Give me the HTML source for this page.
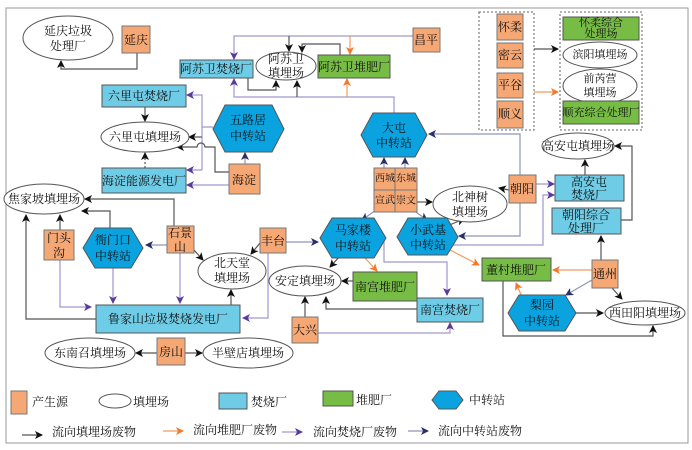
<!DOCTYPE html>
<html><head><meta charset="utf-8"><style>
html,body{margin:0;padding:0;background:#fff;}
svg{display:block;}
text{font-family:"Liberation Serif","Noto Serif CJK SC",serif;font-size:12px;fill:#111;text-anchor:middle;dominant-baseline:central;}
.s{font-size:10px;}
.m{font-size:11px;}
.o{fill:#F6A874;stroke:#777;stroke-width:1}
.b{fill:#6FCCE6;stroke:#555;stroke-width:1}
.g{fill:#76BC45;stroke:#555;stroke-width:1}
.h{fill:#0AA3E0;stroke:#555;stroke-width:1}
.e{fill:#fff;stroke:#555;stroke-width:1}
.k{fill:none;stroke:#555;stroke-width:1.2}
.or{fill:none;stroke:#F39A5E;stroke-width:1.2}
.pu{fill:none;stroke:#A496CC;stroke-width:1.2}
.nv{fill:none;stroke:#8F94B8;stroke-width:1.2}
</style></head><body>
<svg width="692" height="450" viewBox="0 0 692 450" xmlns="http://www.w3.org/2000/svg">
<defs>
<marker id="mk" markerWidth="8" markerHeight="8" refX="7" refY="4" orient="auto" markerUnits="userSpaceOnUse"><path d="M0,0 L8,4 L0,8 L2,4z" fill="#111"/></marker>
<marker id="mo" markerWidth="8" markerHeight="8" refX="7" refY="4" orient="auto" markerUnits="userSpaceOnUse"><path d="M0,0 L8,4 L0,8 L2,4z" fill="#F07A2A"/></marker>
<marker id="mp" markerWidth="8" markerHeight="8" refX="7" refY="4" orient="auto" markerUnits="userSpaceOnUse"><path d="M0,0 L8,4 L0,8 L2,4z" fill="#5B3A9E"/></marker>
<marker id="mn" markerWidth="8" markerHeight="8" refX="7" refY="4" orient="auto" markerUnits="userSpaceOnUse"><path d="M0,0 L8,4 L0,8 L2,4z" fill="#2A2F66"/></marker>
</defs>
<rect x="6" y="8" width="682" height="435" fill="none" stroke="#999" stroke-width="1"/>

<g>
<path class="k" d="M137,53 V69 H61 V61" marker-end="url(#mk)"/>
<path class="pu" d="M413,36 H234 V59" marker-end="url(#mp)"/>
<path class="k" d="M289,36 V51" marker-end="url(#mk)"/>
<path class="k" d="M340,55 V44 H302 V52" marker-end="url(#mk)"/>
<path class="or" d="M350,36 V54" marker-end="url(#mo)"/>
<path class="pu" d="M394,113 V97 H234 V79" marker-end="url(#mp)"/>
<path class="k" d="M297,97 V81" marker-end="url(#mk)"/>
<path class="or" d="M347,97 V79" marker-end="url(#mo)"/>
<path class="k" d="M248,78 V90 H276 V81" marker-end="url(#mk)"/>
<path class="k" d="M145,107 V121" marker-end="url(#mk)"/>
<path class="pu" d="M213,127 H202 V95 H187" marker-end="url(#mp)"/>
<path class="pu" d="M202,127 V170 H187" marker-end="url(#mp)"/>
<path class="k" d="M202,137 H189" marker-end="url(#mk)"/>
<path class="pu" d="M229,185 H187" marker-end="url(#mp)"/>
<path class="k" d="M229,172 H215 V147 H205 A4,4 0 0 0 197,147 H177" marker-end="url(#mk)"/>
<path class="nv" d="M245,164 V153" marker-end="url(#mn)"/>
<path class="k" d="M145,168 V153" stroke-dasharray="2,2" marker-end="url(#mk)"/>
<path class="k" d="M174,226 V199 H85" marker-end="url(#mk)"/>
<path class="k" d="M110,228 V211 H82" marker-end="url(#mk)"/>
<path class="k" d="M60,230 V215" marker-end="url(#mk)"/>
<path class="k" d="M96,319 H26 V215" marker-end="url(#mk)"/>
<path class="pu" d="M60,260 V307 H91" marker-end="url(#mp)"/>
<path class="pu" d="M113,268 V303" marker-end="url(#mp)"/>
<path class="nv" d="M167,245 H146" marker-end="url(#mn)"/>
<path class="pu" d="M180,253 V303" marker-end="url(#mp)"/>
<path class="k" d="M194,250 L203,260" marker-end="url(#mk)"/>
<path class="k" d="M260,243 L251,254" marker-end="url(#mk)"/>
<path class="nv" d="M286,242 H318" marker-end="url(#mn)"/>
<path class="pu" d="M268,253 V318 H243" marker-end="url(#mp)"/>
<path class="k" d="M231,305 V290" marker-end="url(#mk)"/>
<path class="k" d="M157,353 H136" marker-end="url(#mk)"/>
<path class="k" d="M185,353 H202" marker-end="url(#mk)"/>
<path class="k" d="M340,256 L330,267" marker-end="url(#mk)"/>
<path class="or" d="M365,258 L377,271" marker-end="url(#mo)"/>
<path class="pu" d="M384,238 V262 H447 V295" marker-end="url(#mp)"/>
<path class="k" d="M353,281 H342" marker-end="url(#mk)"/>
<path class="k" d="M305,317 V297" marker-end="url(#mk)"/>
<path class="k" d="M417,309 H326 V297" marker-end="url(#mk)"/>
<path class="pu" d="M318,333 H450 V323" marker-end="url(#mp)"/>
<path class="nv" d="M384,168 V158" marker-end="url(#mn)"/>
<path class="nv" d="M405,168 V158" marker-end="url(#mn)"/>
<path class="nv" d="M376,210 L362,220" marker-end="url(#mn)"/>
<path class="nv" d="M413,210 L427,220" marker-end="url(#mn)"/>
<path class="k" d="M417,202 H432" marker-end="url(#mk)"/>
<path class="k" d="M447,226 L464,219" marker-end="url(#mk)"/>
<path class="nv" d="M520,203 V236 H459" marker-end="url(#mn)"/>
<path class="k" d="M509,190 L499,188" marker-end="url(#mk)"/>
<path class="nv" d="M520,175 V134 H429" marker-end="url(#mn)"/>
<path class="pu" d="M536,184 H554" marker-end="url(#mp)"/>
<path class="pu" d="M450,245 H543 V195 H554" marker-end="url(#mp)"/>
<path class="k" d="M585,175 V160" marker-end="url(#mk)"/>
<path class="k" d="M621,220 H632 V146 H615" marker-end="url(#mk)"/>
<path class="or" d="M450,250 L479,265" marker-end="url(#mo)"/>
<path class="or" d="M592,270 H553" marker-end="url(#mo)"/>
<path class="k" d="M601,260 V236" marker-end="url(#mk)"/>
<path class="nv" d="M592,280 L566,295" marker-end="url(#mn)"/>
<path class="k" d="M612,288 L622,299" marker-end="url(#mk)"/>
<path class="or" d="M522,297 L516,283" marker-end="url(#mo)"/>
<path class="k" d="M576,313 H603" marker-end="url(#mk)"/>
<path class="k" d="M503,281 V336 H653 V326" marker-end="url(#mk)"/>
<path class="k" d="M534,49 H558" stroke="#888" marker-end="url(#mk)"/>
<path class="or" d="M534,92 H558" marker-end="url(#mo)"/>
</g>

<rect x="479" y="12" width="55" height="118" fill="none" stroke="#666" stroke-dasharray="2,2"/>
<rect x="560" y="12" width="82" height="118" fill="none" stroke="#666" stroke-dasharray="2,2"/>

<ellipse class="e" cx="68" cy="38" rx="45" ry="22"/><text x="68" y="31">延庆垃圾</text><text x="68" y="46">处理厂</text>
<rect class="o" x="122" y="26" width="28" height="27"/><text x="136" y="40">延庆</text>
<rect class="b" x="180" y="60" width="73" height="18"/><text x="216" y="69">阿苏卫焚烧厂</text>
<ellipse class="e" cx="286" cy="66" rx="30" ry="14"/><text x="286" y="59">阿苏卫</text><text x="286" y="73">填埋场</text>
<rect class="g" x="318" y="55" width="72" height="23"/><text x="354" y="67">阿苏卫堆肥厂</text>
<rect class="o" x="413" y="28" width="27" height="24"/><text x="426" y="40">昌平</text>
<rect class="b" x="102" y="85" width="84" height="22"/><text x="144" y="96">六里屯焚烧厂</text>
<ellipse class="e" cx="145" cy="137" rx="44" ry="15"/><text x="145" y="137">六里屯填埋场</text>
<polygon class="h" points="213,129 225,105 272,105 284,129 272,152 225,152"/><text x="248" y="120">五路居</text><text x="248" y="136">中转站</text>
<rect class="b" x="102" y="168" width="84" height="25"/><text x="144" y="181">海淀能源发电厂</text>
<rect class="o" x="229" y="164" width="31" height="30"/><text x="244" y="180">海淀</text>
<ellipse class="e" cx="44" cy="199" rx="40" ry="15"/><text x="44" y="199">焦家坡填埋场</text>
<rect class="o" x="44" y="230" width="30" height="30"/><text x="59" y="238">门头</text><text x="59" y="253">沟</text>
<polygon class="h" points="83,248 95,228 131,228 143,248 131,268 95,268"/><text x="113" y="240">衙门口</text><text x="113" y="256">中转站</text>
<rect class="o" x="167" y="226" width="27" height="27"/><text x="180" y="233">石景</text><text x="180" y="247">山</text>
<ellipse class="e" cx="232" cy="271" rx="34" ry="18"/><text x="232" y="263">北天堂</text><text x="232" y="278">填埋场</text>
<rect class="o" x="260" y="228" width="26" height="25"/><text x="273" y="241">丰台</text>
<rect class="b" x="96" y="305" width="144" height="28"/><text x="168" y="319">鲁家山垃圾焚烧发电厂</text>
<ellipse class="e" cx="90" cy="353" rx="45" ry="15"/><text x="90" y="353">东南召填埋场</text>
<rect class="o" x="157" y="338" width="28" height="27"/><text x="171" y="352">房山</text>
<ellipse class="e" cx="248" cy="353" rx="45" ry="15"/><text x="248" y="353">半壁店填埋场</text>
<ellipse class="e" cx="305" cy="281" rx="36" ry="15"/><text x="305" y="281">安定填埋场</text>
<polygon class="h" points="320,238 332,218 374,218 386,238 374,258 332,258"/><text x="353" y="230">马家楼</text><text x="353" y="246">中转站</text>
<rect class="g" x="353" y="272" width="64" height="29"/><text x="385" y="287">南宫堆肥厂</text>
<rect class="b" x="417" y="298" width="66" height="24"/><text x="450" y="310">南宫焚烧厂</text>
<rect class="o" x="292" y="317" width="26" height="26"/><text x="305" y="330">大兴</text>
<polygon class="h" points="361,135 373,113 415,113 427,135 415,157 373,157"/><text x="394" y="128">大屯</text><text x="394" y="143">中转站</text>
<rect class="o" x="374" y="168" width="21" height="22"/><text class="s" x="385" y="179">西城</text>
<rect class="o" x="395" y="168" width="22" height="22"/><text class="s" x="406" y="179">东城</text>
<rect class="o" x="374" y="190" width="21" height="22"/><text class="s" x="385" y="201">宣武</text>
<rect class="o" x="395" y="190" width="22" height="22"/><text class="s" x="406" y="201">崇文</text>
<ellipse class="e" cx="470" cy="204" rx="37" ry="18"/><text x="470" y="197">北神树</text><text x="470" y="212">填埋场</text>
<rect class="o" x="509" y="175" width="27" height="28"/><text x="522" y="189">朝阳</text>
<polygon class="h" points="397,237 408,218 447,218 458,237 447,255 408,255"/><text x="428" y="230">小武基</text><text x="428" y="245">中转站</text>
<ellipse class="e" cx="578" cy="146" rx="36" ry="13"/><text x="578" y="146">高安屯填埋场</text>
<rect class="b" x="555" y="175" width="69" height="26"/><text x="589" y="182">高安屯</text><text x="589" y="195">焚烧厂</text>
<rect class="b" x="552" y="208" width="69" height="26"/><text x="586" y="215">朝阳综合</text><text x="586" y="228">处理厂</text>
<rect class="g" x="482" y="258" width="69" height="23"/><text x="516" y="270">董村堆肥厂</text>
<rect class="o" x="592" y="260" width="26" height="28"/><text x="605" y="274">通州</text>
<polygon class="h" points="508,313 519,295 565,295 576,313 565,331 519,331"/><text x="542" y="305">梨园</text><text x="542" y="321">中转站</text>
<ellipse class="e" cx="645" cy="313" rx="40" ry="12"/><text x="645" y="313">西田阳填埋场</text>
<rect class="o" x="497" y="14" width="26" height="26"/><text x="510" y="27">怀柔</text>
<rect class="o" x="497" y="43" width="26" height="25"/><text x="510" y="55">密云</text>
<rect class="o" x="497" y="73" width="26" height="25"/><text x="510" y="85">平谷</text>
<rect class="o" x="497" y="101" width="26" height="27"/><text x="510" y="114">顺义</text>
<rect class="g" x="563" y="17" width="76" height="23"/><text class="m" x="601" y="23">怀柔综合</text><text class="m" x="601" y="34">处理场</text>
<ellipse class="e" cx="600" cy="55" rx="37" ry="13"/><text class="m" x="600" y="55">滨阳填埋场</text>
<ellipse class="e" cx="600" cy="86" rx="37" ry="17"/><text class="m" x="600" y="79">前芮营</text><text class="m" x="600" y="93">填埋场</text>
<rect class="g" x="563" y="101" width="76" height="23"/><text class="m" x="601" y="113">顺充综合处理厂</text>

<rect class="o" x="11" y="391" width="16" height="23"/><text x="50" y="402">产生源</text>
<ellipse class="e" cx="115" cy="401" rx="16" ry="7"/><text x="151" y="402">填埋场</text>
<rect class="b" x="219" y="393" width="28" height="16"/><text x="269" y="402">焚烧厂</text>
<rect class="g" x="323" y="391" width="30" height="15"/><text x="374" y="400">堆肥厂</text>
<polygon class="h" points="432,400 439,391 456,391 463,400 456,409 439,409"/><text x="487" y="400">中转站</text>
<path class="k" d="M22,435 H42" marker-end="url(#mk)"/><text x="94" y="432">流向填埋场废物</text>
<path class="or" d="M163,431 H183" marker-end="url(#mo)"/><text x="235" y="430">流向堆肥厂废物</text>
<path class="pu" d="M282,432 H302" marker-end="url(#mp)"/><text x="355" y="432">流向焚烧厂废物</text>
<path class="nv" d="M408,431 H428" marker-end="url(#mn)"/><text x="480" y="431">流向中转站废物</text>
</svg>
</body></html>
